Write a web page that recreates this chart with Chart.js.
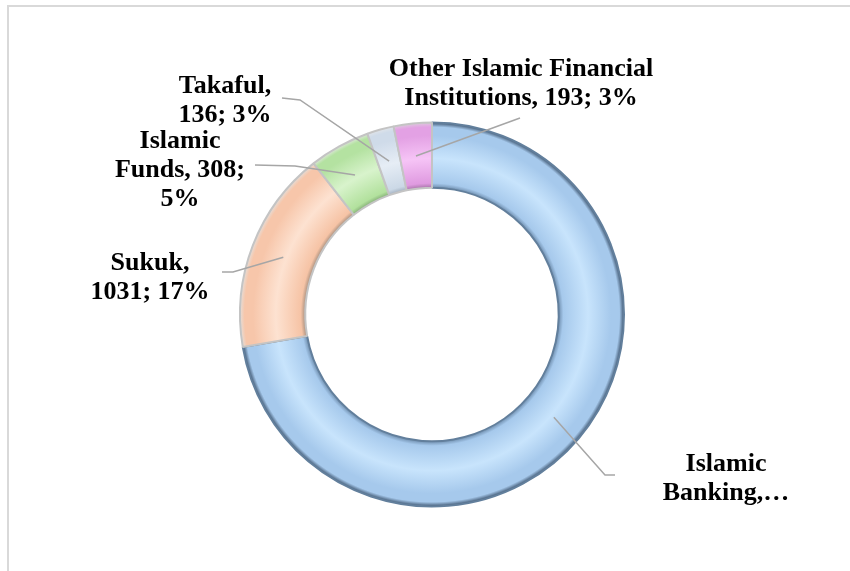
<!DOCTYPE html>
<html>
<head>
<meta charset="utf-8">
<script src="https://cdn.jsdelivr.net/npm/chart.js@4/dist/chart.umd.min.js"></script>
<style>
  html, body { margin: 0; padding: 0; background: #fff; }
  canvas { display: block; }
</style>
</head>
<body>
<canvas id="assetsChart" width="850" height="571"></canvas>
<script>
// Islamic finance assets by sector (clockwise from 12 o'clock)
const categories = ['Islamic Banking', 'Sukuk', 'Islamic Funds', 'Takaful', 'Other Islamic Financial Institutions'];
const assets = [4352, 1031, 308, 136, 193];
const shares = [72, 17, 5, 3, 3];

// ring shading per sector: inner edge -> body -> highlight -> body -> outer edge
const shades = [
    ['#6f8eae', '#a6c9ec', '#c8e4fc', '#a6c9ec', '#3f5670'],
    ['#a8907f', '#f6c3a5', '#fde2d1', '#f7c6aa', '#e6ddd7'],
    ['#86b078', '#b2e19d', '#d8f3cc', '#b4e2a1', '#dbe7d6'],
    ['#a3b1c0', '#cbd8e6', '#e6edf5', '#cfdbe9', '#e0e4e9'],
    ['#aa76ab', '#df9ae0', '#f6c4f6', '#e3a1e4', '#ddc8dd']
];
const edges = ['#627f9c', '#c4c4c4', '#c4c4c4', '#c4c4c4', '#c4c4c4'];

// where each callout sits, and the bend of its leader line (label end last)
const callouts = [
    { x: 726, y: 464, width: 135, maxLines: 2, path: [[605, 475], [615, 475]] },
    { x: 150, y: 263, width: 135, path: [[233, 272], [222, 272]] },
    { x: 180, y: 141, width: 140, path: [[295, 166], [255, 165]] },
    { x: 225, y: 86, width: 120, path: [[300, 100], [282, 98]] },
    { x: 521, y: 69, width: 280, path: [[520, 118]] }
];

function bevel(ctx) {
    const chart = ctx.chart;
    const stops = shades[ctx.dataIndex];
    const ctrl = chart.getDatasetMeta(0).controller;
    const area = chart.chartArea;
    if (!area || !ctrl.outerRadius) return stops[1];
    const cx = (area.left + area.right) / 2 + ctrl.offsetX;
    const cy = (area.top + area.bottom) / 2 + ctrl.offsetY;
    const g = chart.ctx.createRadialGradient(cx, cy, ctrl.innerRadius, cx, cy, ctrl.outerRadius);
    g.addColorStop(0, stops[0]);
    g.addColorStop(0.07, stops[1]);
    g.addColorStop(0.45, stops[2]);
    g.addColorStop(0.8, stops[3]);
    g.addColorStop(0.93, stops[3]);
    g.addColorStop(1, stops[4]);
    return g;
}

function wrap(ctx, text, width, maxLines) {
    const words = text.split(' ');
    const lines = [];
    let line = '';
    words.forEach(w => {
        const test = line ? line + ' ' + w : w;
        if (line && ctx.measureText(test).width > width) {
            lines.push(line);
            line = w;
        } else {
            line = test;
        }
    });
    if (line) lines.push(line);
    if (maxLines && lines.length > maxLines) {
        lines.length = maxLines;
        lines[maxLines - 1] += '\u2026';
    }
    return lines;
}

const frame = {
    id: 'frame',
    beforeDraw(chart) {
        const ctx = chart.ctx;
        ctx.save();
        ctx.strokeStyle = '#d9d9d9';
        ctx.lineWidth = 2;
        ctx.strokeRect(8, 6, 900, 700);
        ctx.restore();
    }
};

const calloutLabels = {
    id: 'calloutLabels',
    afterDatasetsDraw(chart) {
        const ctx = chart.ctx;
        const meta = chart.getDatasetMeta(0);
        ctx.save();
        ctx.font = 'bold 26px "Liberation Serif", "Times New Roman", serif';
        ctx.textAlign = 'center';
        ctx.textBaseline = 'middle';
        meta.data.forEach((arc, i) => {
            const c = callouts[i];
            const start = arc.tooltipPosition();
            ctx.strokeStyle = '#a6a6a6';
            ctx.lineWidth = 1.5;
            ctx.beginPath();
            ctx.moveTo(start.x, start.y);
            c.path.forEach(p => ctx.lineTo(p[0], p[1]));
            ctx.stroke();

            const value = chart.data.datasets[0].data[i];
            const text = chart.data.labels[i] + ', ' + value + '; ' + shares[i] + '%';
            ctx.fillStyle = '#000';
            wrap(ctx, text, c.width, c.maxLines).forEach((ln, k) => {
                ctx.fillText(ln, c.x, c.y + k * 29);
            });
        });
        ctx.restore();
    }
};

new Chart(document.getElementById('assetsChart'), {
    type: 'doughnut',
    data: {
        labels: categories,
        datasets: [{
            data: assets,
            backgroundColor: bevel,
            borderColor: edges,
            borderWidth: 2,
            hoverOffset: 0
        }]
    },
    options: {
        responsive: false,
        animation: false,
        cutout: '66%',
        layout: { padding: { left: 239, right: 225, top: 121, bottom: 63 } },
        plugins: {
            legend: { display: false },
            tooltip: { enabled: false }
        }
    },
    plugins: [frame, calloutLabels]
});
</script>
</body>
</html>
